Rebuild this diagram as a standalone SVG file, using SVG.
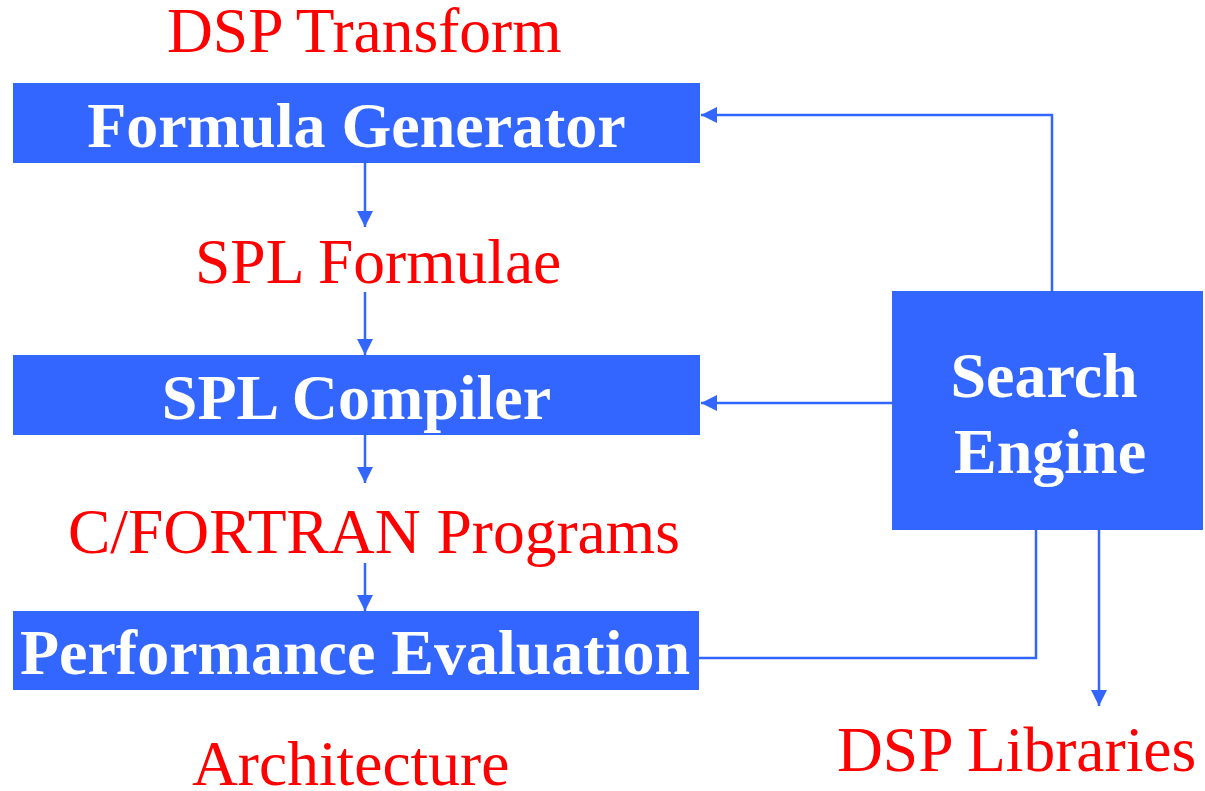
<svg xmlns="http://www.w3.org/2000/svg" width="1205" height="791" viewBox="0 0 1205 791">
<style>
.box{fill:#3366FF}
.wt{fill:#FFFFFF;font-family:"Liberation Serif","Times New Roman",serif;font-weight:bold;font-size:64px;text-anchor:middle}
.rt{fill:#FF0000;font-family:"Liberation Serif","Times New Roman",serif;font-size:63.5px}
.ln{stroke:#3366FF;stroke-width:2.5;fill:none}
</style>
<defs>
<marker id="ah" markerUnits="userSpaceOnUse" markerWidth="16" markerHeight="16" viewBox="0 0 16 16" refX="16" refY="8" orient="auto">
<path d="M0,0 L16,8 L0,16 Z" fill="#3366FF"/>
</marker>
</defs>
<rect width="1205" height="791" fill="#FFFFFF"/>
<g id="labels">
<text class="rt" x="167" y="52">DSP Transform</text>
<text class="rt" x="195" y="283">SPL Formulae</text>
<text class="rt" x="68" y="553">C/FORTRAN Programs</text>
<text class="rt" x="192" y="785">Architecture</text>
<text class="rt" x="837" y="771">DSP Libraries</text>
</g>
<g id="formula-generator">
<rect class="box" x="13" y="83" width="687" height="80"/>
<text class="wt" x="356.5" y="147">Formula Generator</text>
</g>
<g id="spl-compiler">
<rect class="box" x="13" y="355" width="687" height="80"/>
<text class="wt" x="356.5" y="419">SPL Compiler</text>
</g>
<g id="performance-evaluation">
<rect class="box" x="13" y="611" width="686" height="79"/>
<text class="wt" x="355" y="674">Performance Evaluation</text>
</g>
<g id="search-engine">
<rect class="box" x="892" y="291" width="311" height="239"/>
<text class="wt" x="1044" y="397">Search</text>
<text class="wt" x="1050" y="473">Engine</text>
</g>
<g id="connectors">
<line class="ln" x1="365" y1="163" x2="365" y2="227" marker-end="url(#ah)"/>
<line class="ln" x1="365" y1="292" x2="365" y2="355" marker-end="url(#ah)"/>
<line class="ln" x1="365" y1="435" x2="365" y2="483" marker-end="url(#ah)"/>
<line class="ln" x1="365" y1="563" x2="365" y2="611" marker-end="url(#ah)"/>
<polyline class="ln" points="1052,291 1052,115 701,115" marker-end="url(#ah)"/>
<line class="ln" x1="892" y1="403" x2="701" y2="403" marker-end="url(#ah)"/>
<polyline class="ln" points="699,658 1036,658 1036,530"/>
<line class="ln" x1="1099" y1="530" x2="1099" y2="706" marker-end="url(#ah)"/>
</g>
</svg>
